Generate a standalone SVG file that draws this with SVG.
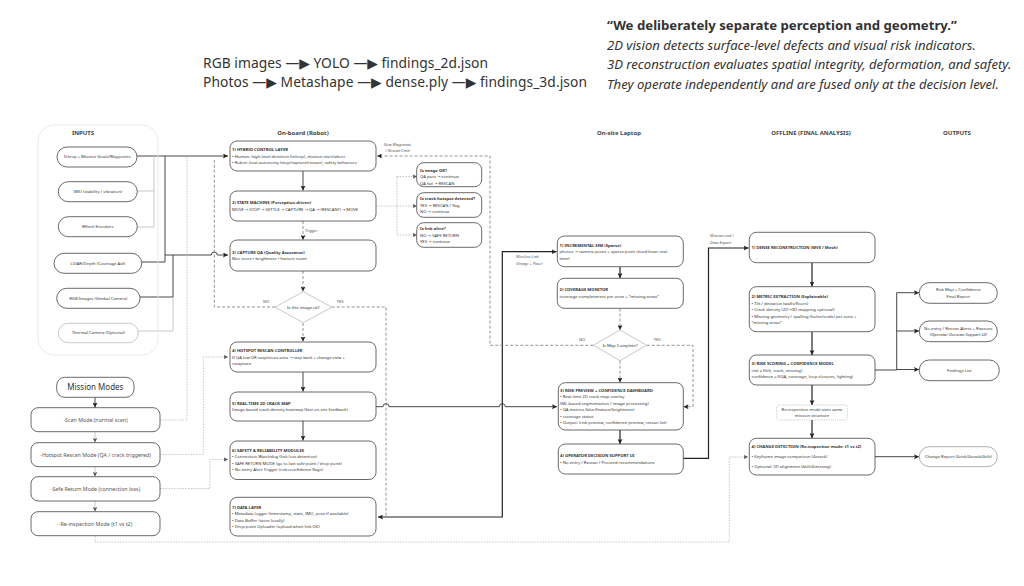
<svg xmlns="http://www.w3.org/2000/svg" width="1024" height="586" viewBox="0 0 1024 586">
<style>
text{font-family:"Noto Sans","DejaVu Sans",sans-serif;fill:#333}
.s{font-size:4.2px}
.b{font-weight:bold}
.i{font-style:italic}
.h{font-size:6px;font-weight:bold;text-anchor:middle;fill:#444}
.m{font-size:5.3px;text-anchor:middle;fill:#555}
.ctr{text-anchor:middle}
.lab{font-size:4px;font-style:italic;fill:#555}
.box{fill:#fff;stroke:#444;stroke-width:0.8}
.lbox{fill:#fff;stroke:#bbb;stroke-width:0.8}
.c{fill:none;stroke:#333;stroke-width:0.9}
.ck{fill:none;stroke:#222;stroke-width:1.2}
.g{fill:none;stroke:#bbb;stroke-width:0.8}
.gd{fill:none;stroke:#bbb;stroke-width:0.8;stroke-dasharray:1.6 1.2}
.d{fill:none;stroke:#777;stroke-width:0.8;stroke-dasharray:3 2}
</style>
<defs>
<marker id="a" viewBox="0 0 10 10" refX="10" refY="5" markerWidth="5" markerHeight="5" markerUnits="userSpaceOnUse" orient="auto"><path d="M0,0 L10,5 L0,10 L2,5 z" fill="#222"/></marker>
<marker id="ag" viewBox="0 0 10 10" refX="10" refY="5" markerWidth="4.5" markerHeight="4.5" markerUnits="userSpaceOnUse" orient="auto"><path d="M0,0 L10,5 L0,10 L2,5 z" fill="#555"/></marker>
<marker id="as" viewBox="0 0 10 10" refX="0" refY="5" markerWidth="5" markerHeight="5" markerUnits="userSpaceOnUse" orient="auto"><path d="M10,0 L0,5 L10,10 L8,5 z" fill="#222"/></marker>
</defs>
<rect width="1024" height="586" fill="#fff"/>

<!-- top texts -->
<g id="pipeline">
<text x="203" y="67.5" font-size="13.8" textLength="285">RGB images —▶ YOLO —▶ findings_2d.json</text>
<text x="203" y="87" font-size="13.8" textLength="384">Photos —▶ Metashape —▶ dense.ply —▶ findings_3d.json</text>
</g>
<g id="quote">
<text x="607" y="30" font-size="13.2" font-weight="bold" fill="#222">“We deliberately separate perception and geometry.”</text>
<text x="607" y="49.5" font-size="13.1" font-style="italic" fill="#444">2D vision detects surface-level defects and visual risk indicators.</text>
<text x="607" y="69" font-size="13.1" font-style="italic" fill="#444">3D reconstruction evaluates spatial integrity, deformation, and safety.</text>
<text x="607" y="88.5" font-size="13.1" font-style="italic" fill="#444">They operate independently and are fused only at the decision level.</text>
</g>

<!-- headers -->
<g id="headers">
<text class="h" x="83" y="135">INPUTS</text>
<text class="h" x="303" y="135">On-board (Robot)</text>
<text class="h" x="619" y="135">On-site Laptop</text>
<text class="h" x="811" y="135">OFFLINE (FINAL ANALYSIS)</text>
<text class="h" x="957" y="135">OUTPUTS</text>
</g>

<!-- connectors -->
<g id="connectors">
<!-- inputs -->
<path class="c" d="M137,156 H228" marker-end="url(#a)"/>
<path class="g" d="M137,191 H154 V156"/>
<path class="g" d="M137,227 H154 V191"/>
<path class="c" d="M142,262 H165 V156"/>
<path class="c" d="M165,255 H211.3 a3,3 0 0 1 6,0 H228" marker-end="url(#a)"/>
<path class="c" d="M140,297 H173 V255"/>
<path class="g" d="M138,331 H173 V297"/>
<!-- mission modes -->
<path class="c" d="M95,397.5 V407.5" marker-end="url(#a)"/>
<path class="g" d="M95,432 V442.5" marker-end="url(#ag)"/>
<path class="g" d="M95,467 V476.5" marker-end="url(#ag)"/>
<path class="g" d="M95,501 V511.5" marker-end="url(#ag)"/>
<path class="gd" d="M160,420 H187 V156"/>
<path class="gd" d="M157,454.5 H203.3 V357 H228" marker-end="url(#ag)"/>
<path class="gd" d="M160,488.5 H210 V459.5 H228" marker-end="url(#ag)"/>
<path class="gd" d="M95,536 V542 H729.3 V457 H748" marker-end="url(#ag)"/>
<!-- on-board -->
<path class="c" d="M303,171 V190.5" marker-end="url(#a)"/>
<path class="d" d="M303,221 V240" marker-end="url(#a)"/>
<path class="gd" d="M376,206 H397 M397,176.5 V235"/>
<path class="gd" d="M397,176.5 H417" marker-end="url(#ag)"/>
<path class="gd" d="M397,206 H417" marker-end="url(#ag)"/>
<path class="gd" d="M397,235 H417" marker-end="url(#ag)"/>
<path class="d" d="M303,271 V291.5" marker-end="url(#a)"/>
<path class="d" d="M275,307 H214.3 V160"/>
<path class="d" d="M331.7,307 H386 V516"/>
<path class="d" d="M303,323 V341.5" marker-end="url(#a)"/>
<path class="c" d="M303,372 V391.5" marker-end="url(#a)"/>
<path class="c" d="M303,421 V440.5" marker-end="url(#a)"/>
<path class="c" d="M376,406.7 H383 a3,3 0 0 1 6,0 H499.3 a3,3 0 0 1 6,0 H557" marker-end="url(#a)"/>
<path class="ck" d="M378,517 H502.3 V251.7 H556.5" marker-start="url(#as)" marker-end="url(#a)"/>
<path class="d" d="M593.3,345.3 H490 V156 H377" marker-end="url(#a)"/>
<!-- laptop -->
<path class="ck" d="M620,267 V278" marker-end="url(#a)"/>
<path class="d" d="M620,308.5 V330" marker-end="url(#a)"/>
<path class="d" d="M620,360.7 V382.5" marker-end="url(#a)"/>
<path class="d" d="M646.7,345.3 H693 V406.7 H683.5" marker-end="url(#a)"/>
<path class="ck" d="M620,430 V444" marker-end="url(#a)"/>
<path class="ck" d="M683.3,458.3 H708.5 V248 H748.5" marker-end="url(#a)"/>
<!-- offline -->
<path class="ck" d="M812,262.7 V286.5" marker-end="url(#a)"/>
<path class="ck" d="M812,331.7 V355" marker-end="url(#a)"/>
<path class="ck" d="M812,385 V405" marker-end="url(#a)"/>
<path class="ck" d="M812,420 V438" marker-end="url(#a)"/>
<path class="c" d="M875,370 H896.7 M896.7,292.7 V370"/>
<path class="c" d="M896.7,292.7 H919" marker-end="url(#a)"/>
<path class="c" d="M896.7,331 H919" marker-end="url(#a)"/>
<path class="c" d="M896.7,369.5 H919" marker-end="url(#a)"/>
<path class="c" d="M875,456.7 H919" marker-end="url(#a)"/>
<!-- labels -->
<text class="lab ctr" x="397.5" y="145.5">New Waypoints</text>
<text class="lab ctr" x="397.5" y="152">/ Rescan Cmd</text>
<text class="lab" x="305" y="231.5">Trigger</text>
<text class="lab" x="516" y="258">Wireless Link</text>
<text class="lab" x="516" y="265">(Image + Pose)</text>
<text class="lab" x="710" y="236.5">Mission end /</text>
<text class="lab" x="710" y="243.5">Data Export</text>
<text class="lab ctr" x="266" y="302.5" style="font-style:normal">NO</text>
<text class="lab ctr" x="340" y="302.5" style="font-style:normal">YES</text>
<text class="lab ctr" x="582" y="340.5" style="font-style:normal">NO</text>
<text class="lab ctr" x="657" y="340.5" style="font-style:normal">YES</text>
</g>

<!-- inputs -->
<rect x="38" y="125" width="120" height="230" rx="16" fill="none" stroke="#e3e3e3" stroke-width="0.8"/>
<g id="in-teleop"><rect class="box" x="57" y="147" width="80" height="20" rx="10"/><text class="s ctr" x="97" y="158.4">Teleop + Mission Goals/Waypoints</text></g>
<g id="in-imu"><rect class="box" x="58.3" y="181.7" width="79" height="20" rx="10"/><text class="s ctr" x="97.8" y="193.1">IMU (stability / vibration)</text></g>
<g id="in-wheel"><rect class="box" x="58.3" y="216.7" width="79" height="20" rx="10"/><text class="s ctr" x="97.8" y="228.1">Wheel Encoders</text></g>
<g id="in-lidar"><rect class="box" x="54" y="253.3" width="87.7" height="20" rx="10"/><text class="s ctr" x="97.8" y="264.7">LiDAR/Depth (Coverage Aid)</text></g>
<g id="in-rgb"><rect class="box" x="56.7" y="288.3" width="83.3" height="20" rx="10"/><text class="s ctr" x="98.3" y="299.7">RGB Images (Gimbal Camera)</text></g>
<g id="in-thermal"><rect class="lbox" x="58.3" y="323.3" width="80" height="19.4" rx="9.7"/><text class="s ctr" x="98.3" y="334.4">Thermal Camera (Optional)</text></g>

<!-- mission modes -->
<g id="mission-modes"><rect class="box" x="56.7" y="377.3" width="77.3" height="20" rx="8"/><text class="ctr" x="95.3" y="390.2" font-size="8" fill="#444">Mission Modes</text></g>
<g id="mode-scan"><rect class="box" x="31" y="407.7" width="129" height="24" rx="7"/><text class="m" x="95.5" y="421.6">-Scan Mode (normal scan)</text></g>
<g id="mode-hotspot"><rect class="box" x="31" y="442.7" width="129" height="24" rx="7"/><text class="m" x="95.5" y="456.6">-Hotspot Rescan Mode (QA / crack triggered)</text></g>
<g id="mode-safe"><rect class="box" x="31" y="476.7" width="129" height="24.3" rx="7"/><text class="m" x="95.5" y="490.7">-Safe Return Mode (connection loss)</text></g>
<g id="mode-reinspect"><rect class="box" x="31" y="511.7" width="129" height="24" rx="7"/><text class="m" x="95.5" y="525.6">-Re-inspection Mode (t1 vs t2)</text></g>

<!-- on-board -->
<g id="ob-hybrid"><rect class="box" x="230" y="141" width="146" height="30" rx="7"/>
<text class="s b" x="232" y="151.1">1) HYBRID CONTROL LAYER</text>
<text class="s" x="232" y="157.6">• Human: high-level direction (teleop), mission start/abort</text>
<text class="s" x="232" y="164.1">• Robot: local autonomy (stop/capture/rescan), safety behaviors</text></g>
<g id="ob-state"><rect class="box" x="230" y="191" width="146" height="30" rx="7"/>
<text class="s b" x="232" y="204.3">2) STATE MACHINE (Perception-driven)</text>
<text class="s" x="232" y="210.8">MOVE → STOP → SETTLE → CAPTURE → QA → (RESCAN?) → MOVE</text></g>
<g id="ob-capture"><rect class="box" x="230" y="240" width="146" height="31" rx="7"/>
<text class="s b" x="232" y="253.8">3) CAPTURE QA (Quality Assurance)</text>
<text class="s" x="232" y="260.3">Blur score • brightness • feature count</text></g>
<g id="dec-image"><rect class="box" x="416.7" y="162.7" width="65" height="24" rx="7"/>
<text class="s b" x="420" y="171.6">Is image OK?</text>
<text class="s" x="420" y="178.1">QA pass → continue</text>
<text class="s" x="420" y="184.6">QA fail → RESCAN</text></g>
<g id="dec-crack"><rect class="box" x="416.7" y="192.7" width="65" height="24.6" rx="7"/>
<text class="s b" x="420" y="200.1">Is crack hotspot detected?</text>
<text class="s" x="420" y="206.6">YES → RESCAN / flag</text>
<text class="s" x="420" y="213.1">NO → continue</text></g>
<g id="dec-link"><rect class="box" x="416.7" y="222.7" width="65" height="24.6" rx="7"/>
<text class="s b" x="420" y="230.1">Is link alive?</text>
<text class="s" x="420" y="236.6">NO → SAFE RETURN</text>
<text class="s" x="420" y="243.1">YES → continue</text></g>
<g id="ob-diamond"><path d="M303.3,291.7 L331.7,307.2 L303.3,322.7 L275,307.2 Z" fill="#fff" stroke="#bbb" stroke-width="0.8"/>
<text class="s ctr" x="303.3" y="308.7">Is this image ok?</text></g>
<g id="ob-hotspot"><rect class="box" x="230" y="342" width="146" height="30" rx="7"/>
<text class="s b" x="232" y="352.1">4) HOTSPOT RESCAN CONTROLLER</text>
<text class="s" x="232" y="358.6">If QA low OR suspicious area → step back + change view +</text>
<text class="s" x="232" y="365.1">recapture</text></g>
<g id="ob-crackmap"><rect class="box" x="230" y="392" width="146" height="29" rx="7"/>
<text class="s b" x="232" y="404.9">5) REAL-TIME 2D CRACK MAP</text>
<text class="s" x="232" y="411.4">Image-based crack density heatmap (fast on-site feedback)</text></g>
<g id="ob-safety"><rect class="box" x="230" y="441" width="146" height="38.5" rx="7"/>
<text class="s b" x="232" y="451.9">6) SAFETY &amp; RELIABILITY MODULES</text>
<text class="s" x="232" y="458.4">• Connection Watchdog (link loss detection)</text>
<text class="s" x="232" y="464.9">• SAFE RETURN MODE (go to last safe point / drop point)</text>
<text class="s" x="232" y="471.4">• No-entry Alert Trigger (risk+confidence flags)</text></g>
<g id="ob-data"><rect class="box" x="230" y="497.3" width="146" height="38.7" rx="7"/>
<text class="s b" x="232" y="508.6">7) DATA LAYER</text>
<text class="s" x="232" y="515.1">• Metadata logger (timestamp, state, IMU, pose if available)</text>
<text class="s" x="232" y="521.6">• Data Buffer (store locally)</text>
<text class="s" x="232" y="528.1">• Drop-point Uploader (upload when link OK)</text></g>

<!-- laptop -->
<g id="lp-sfm"><rect class="box" x="557.3" y="236" width="126" height="30.7" rx="7"/>
<text class="s b" x="559.5" y="246.6">1) INCREMENTAL SfM (Sparse)</text>
<text class="s" x="559.5" y="253.1">photos → camera poses + sparse point cloud (near real-</text>
<text class="s" x="559.5" y="259.6">time)</text></g>
<g id="lp-coverage"><rect class="box" x="557.3" y="278.3" width="126" height="30" rx="7"/>
<text class="s b" x="559.5" y="291.4">2) COVERAGE MONITOR</text>
<text class="s" x="559.5" y="297.9">coverage completeness per zone + "missing areas"</text></g>
<g id="lp-diamond"><path d="M620,330 L646.7,345.3 L620,360.7 L593.3,345.3 Z" fill="#fff" stroke="#bbb" stroke-width="0.8"/>
<text class="s ctr" x="620" y="346.8">Is Map Complete?</text></g>
<g id="lp-risk"><rect class="box" x="558.3" y="382.7" width="125" height="47.3" rx="7"/>
<text class="s b" x="560" y="391.9">3) RISK PREVIEW + CONFIDENCE DASHBOARD</text>
<text class="s" x="560" y="398.4">• Real-time 2D crack map overlay</text>
<text class="s" x="560" y="404.9">(ML-based segmentation / image processing)</text>
<text class="s" x="560" y="411.4">• QA metrics (blur/feature/brightness)</text>
<text class="s" x="560" y="417.9">• coverage status</text>
<text class="s" x="560" y="424.4">• Output: (risk preview, confidence preview, rescan list)</text></g>
<g id="lp-operator"><rect class="box" x="558.3" y="444" width="125" height="30" rx="7"/>
<text class="s b" x="560" y="457.4">4) OPERATOR DECISION SUPPORT UI</text>
<text class="s" x="560" y="463.9">• No-entry / Rescan / Proceed recommendations</text></g>

<!-- offline -->
<g id="off-dense"><rect class="box" x="749.3" y="232.3" width="125.7" height="30.4" rx="7"/>
<text class="s b" x="751.5" y="249.1">1) DENSE RECONSTRUCTION (MVS / Mesh)</text></g>
<g id="off-metric"><rect class="box" x="749.3" y="286.7" width="125.7" height="45" rx="7"/>
<text class="s b" x="751.5" y="298.1">2) METRIC EXTRACTION (Explainable)</text>
<text class="s" x="751.5" y="304.6">• Tilt / deviation (walls/floors)</text>
<text class="s" x="751.5" y="311.1">• Crack density (2D→3D mapping optional)</text>
<text class="s" x="751.5" y="317.6">• Missing geometry / spalling (holes/voids) per zone +</text>
<text class="s" x="751.5" y="324.1">"missing areas"</text></g>
<g id="off-risk"><rect class="box" x="749.3" y="355" width="125.7" height="30" rx="7"/>
<text class="s b" x="751.5" y="365.1">3) RISK SCORING + CONFIDENCE MODEL</text>
<text class="s" x="751.5" y="371.6">risk = f(tilt, crack, missing)</text>
<text class="s" x="751.5" y="378.1">confidence = f(QA, coverage, loop closures, lighting)</text></g>
<g id="off-note"><rect x="776.7" y="405" width="70.6" height="15" rx="2" fill="#fff" stroke="#aaa" stroke-width="0.6" stroke-dasharray="1.2 1"/>
<text class="s ctr" x="812" y="411.1">Re-inspection mode uses same</text>
<text class="s ctr" x="812" y="417.3">mission structure</text></g>
<g id="off-change"><rect class="box" x="749.3" y="438.3" width="125.7" height="36.7" rx="7"/>
<text class="s b" x="751.5" y="448.3">4) CHANGE DETECTION (Re-inspection mode: t1 vs t2)</text>
<text class="s" x="751.5" y="458.3">• Keyframe image comparison (Δcrack)</text>
<text class="s" x="751.5" y="467.6">• Optional: 3D alignment (Δtilt/Δmissing)</text></g>

<!-- outputs -->
<g id="out-riskmap"><rect class="box" x="919.3" y="282.7" width="78" height="20.6" rx="10"/>
<text class="s ctr" x="958.3" y="291.3">Risk Map + Confidence</text>
<text class="s ctr" x="958.3" y="298">Final Report</text></g>
<g id="out-alerts"><rect class="box" x="919.3" y="321" width="78" height="20.7" rx="10"/>
<text class="s ctr" x="958.3" y="329.6">No-entry / Rescan Alerts + Reasons</text>
<text class="s ctr i" x="958.3" y="336.3">(Operator Decision Support UI)</text></g>
<g id="out-findings"><rect class="box" x="919.3" y="360" width="80" height="20.7" rx="10"/>
<text class="s ctr" x="959.3" y="371.8">Findings List</text></g>
<g id="out-change"><rect class="lbox" x="919.3" y="446.7" width="78" height="20" rx="10" style="stroke:#999"/>
<text class="s ctr" x="958.3" y="458.2">Change Report (Δrisk/Δcrack/Δtilt)</text></g>
</svg>
